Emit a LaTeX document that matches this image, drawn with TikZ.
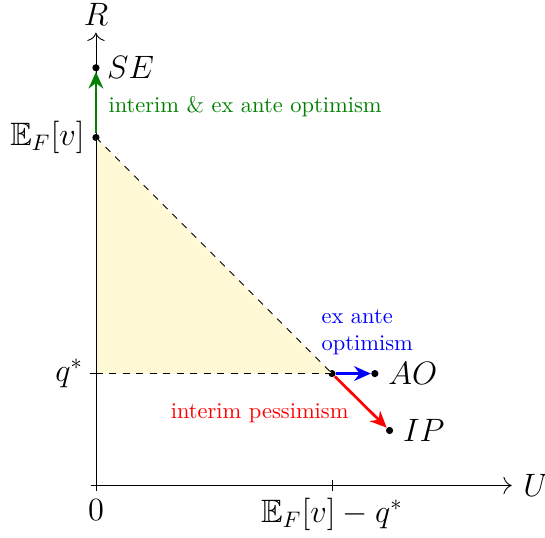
\documentclass[tikz,border=0pt]{standalone}
\usepackage{amsmath}
\usepackage{amssymb}
\usetikzlibrary{arrows.meta,positioning}
\definecolor{gain}{HTML}{008000}
\definecolor{loss}{HTML}{FF0000}
\definecolor{ante}{HTML}{0000FF}
\definecolor{region}{HTML}{FFF9D6}
\tikzset{
  dot/.style={circle, fill=black, inner sep=0pt, minimum size=3.2pt},
  lbl/.style={font=\Large, inner sep=3pt},
  note/.style={font=\normalsize, align=left, inner sep=0pt},
  axis/.style={-{To[length=1.3mm]}, thin},
  move/.style={-{Stealth[length=2.6mm, width=2.3mm]}, very thick},
  guide/.style={dashed, thin}
}

\begin{document}
\begin{tikzpicture}
        \useasboundingbox (-1.5,-0.81) rectangle (7.02,7.59);
        % points of the picture
        \coordinate (o) at (0,0);
        \coordinate (ue) at (6.5,0);
        \coordinate (re) at (0,7.08);
        \node[dot] (ev) at (0,5.44) {};
        \node[dot] (se) at (0,6.53) {};
        \node[dot] (k) at (3.69,1.75) {};
        \node[dot] (ao) at (4.36,1.75) {};
        \node[dot] (ip) at (4.59,0.86) {};
        \coordinate (qa) at (0,1.75);
        % shaded region
        \fill[region] (ev.center) -- (k.center) -- (qa) -- cycle;
        % axes and ticks
        \draw[axis] (-0.08,0) -- (ue);
        \draw[axis] (0,-0.08) -- (re);
        \draw (-0.09,1.75) -- (0.09,1.75);
        \draw (3.69,-0.09) -- (3.69,0.09);
        \draw[guide] (ev.center) -- (k.center);
        \draw[guide] (qa) -- (k.center);
        % labels
        \node[lbl, right=2pt of ue] (ul) {$U$};
        \node[lbl, above=0pt of re] (rl) {$R$};
        \node[lbl, below=3pt of o] (zl) {$0$};
        \node[lbl, below=0pt of {(3.69,-0.09)}] (dl) {$\mathbb{E}_F[v]-q^{*}$};
        \node[lbl, left=0pt of ev] (el) {$\mathbb{E}_F[v]$};
        \node[lbl, left=0pt of {(-0.09,1.75)}] (ql) {$q^{*}$};
        \node[lbl, right=0pt of se] (sl) {$SE$};
        \node[lbl, right=1pt of ao] (al) {$AO$};
        \node[lbl, right=1pt of ip] (il) {$IP$};
        % moves
        \draw[move, gain] (ev) -- (se);
        \draw[move, ante] (k) -- (ao);
        \draw[move, loss] (k) -- (ip);
        \node[note, text=gain, anchor=west] (gn) at (0.19,5.92) {interim \& ex ante optimism};
        \node[note, text=ante, anchor=west] (an) at (3.52,2.39) {ex ante\\optimism};
        \node[note, text=loss] (ln) at (2.56,1.13) {interim pessimism};
\end{tikzpicture}
\end{document}
